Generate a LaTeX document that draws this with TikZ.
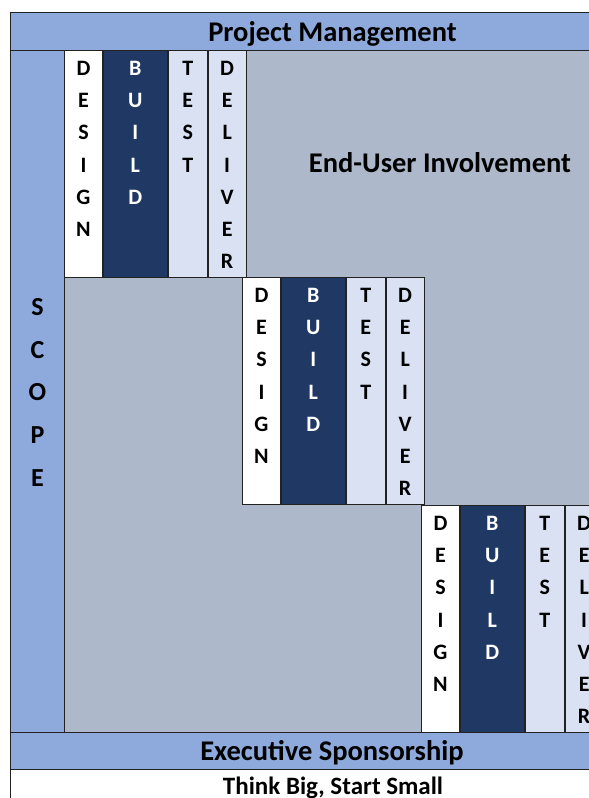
\documentclass[tikz,border=0pt]{standalone}
\usepackage{fontspec}
\setmainfont{Carlito}
\usetikzlibrary{calc}

\definecolor{band}{HTML}{8EA9DB}
\definecolor{field}{HTML}{ADB9CA}
\definecolor{navy}{HTML}{203864}
\definecolor{pale}{HTML}{D9E1F2}
\definecolor{rule}{HTML}{222222}

\tikzset{
  grid/.style={draw=rule, line width=0.9pt},
  cell/.style={grid, inner sep=0pt, anchor=north west, minimum height=227pt},
  letter/.style={font=\bfseries\fontsize{22}{22}\selectfont, inner sep=0pt},
  bigletter/.style={font=\bfseries\fontsize{26}{26}\selectfont, inner sep=0pt},
  heading/.style={font=\bfseries\fontsize{28.5}{28.5}\selectfont, inner sep=0pt, anchor=base},
  motto/.style={font=\bfseries\fontsize{25}{25}\selectfont, inner sep=0pt, anchor=base},
}

% one design/build/test/deliver cycle, top-left corner at (#2,#3)
\newcommand\cycle[3]{%
  \node[cell, fill=white, minimum width=38pt] (#1d) at (#2,#3) {};
  \node[cell, fill=navy,  minimum width=64pt] (#1b) at ($(#1d.north east)$) {};
  \node[cell, fill=pale,  minimum width=39pt] (#1t) at ($(#1b.north east)$) {};
  \node[cell, fill=pale,  minimum width=38pt] (#1v) at ($(#1t.north east)$) {};
  \foreach \c [count=\i from 0] in {D,E,S,I,G,N}
    \node[letter] at ($(#1d.north)+(0,18+32.3*\i)$) {\c};
  \foreach \c [count=\i from 0] in {B,U,I,L,D}
    \node[letter, text=white] at ($(#1b.north)+(0,18+32.3*\i)$) {\c};
  \foreach \c [count=\i from 0] in {T,E,S,T}
    \node[letter] at ($(#1t.north)+(0,18+32.3*\i)$) {\c};
  \foreach \c [count=\i from 0] in {D,E,L,I,V,E,R}
    \node[letter] at ($(#1v.north)+(0,18+32.3*\i)$) {\c};
}

\begin{document}
\begin{tikzpicture}[x=1pt, y=-1pt]
  \useasboundingbox (0,0) rectangle (589,798);
  \clip (0,0) rectangle (589,798);

  % bands and field
  \node[grid, fill=band, inner sep=0pt, anchor=north west, minimum width=600pt, minimum height=38pt] (pm) at (10,12) {};
  \node[grid, fill=band, inner sep=0pt, anchor=north west, minimum width=54pt, minimum height=682pt] (scope) at (10,50) {};
  \node[grid, fill=field, inner sep=0pt, anchor=north west, minimum width=546pt, minimum height=682pt] (field) at (64,50) {};
  \node[grid, fill=band, inner sep=0pt, anchor=north west, minimum width=600pt, minimum height=37pt] (es) at (10,732) {};
  \node[grid, fill=white, inner sep=0pt, anchor=north west, minimum width=600pt, minimum height=60pt] (motto) at (10,769) {};

  % staircase of cycles
  \cycle{a}{64}{50}
  \cycle{b}{242}{277}
  \cycle{c}{421}{505}

  % horizontal step lines joining the cycles
  \draw[grid] (ad.south west) -- (av.south east);
  \draw[grid] (bd.north west) -- (bv.north east);

  % labels
  \node[heading] (pmtext) at (332.5,41.7) {Project Management};
  \node[heading] (eutext) at (440,172.3) {End-User Involvement};
  \node[heading] (estext) at (332,760) {Executive Sponsorship};
  \node[motto] (mottotext) at (333,794) {Think Big, Start Small};
  \foreach \c [count=\i from 0] in {S,C,O,P,E}
    \node[bigletter] at ($(scope.north)+(0,257+42.7*\i)$) {\c};
\end{tikzpicture}
\end{document}
